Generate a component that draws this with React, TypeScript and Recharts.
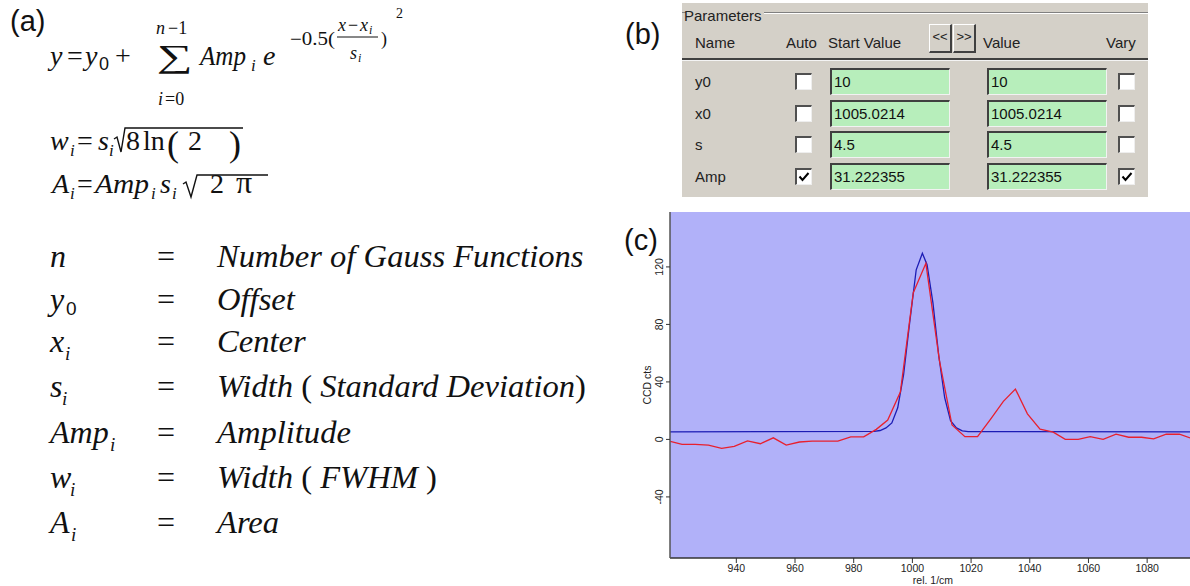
import React from 'react';
import { LineChart, Line, XAxis, YAxis, CartesianGrid } from 'recharts';

const redX = [
  917.5, 921.5, 926, 930.5, 935, 939.3, 943.8, 948.2, 952.6, 957, 961.5, 965.8, 970.2, 974.6,
  979, 983.4, 987.7, 991.6, 995.9, 1000.3, 1004.6, 1009.2, 1013.5, 1017.9, 1022.2, 1026.6,
  1031, 1035.1, 1039.2, 1043.5, 1048, 1052.1, 1056.5, 1060.6, 1065, 1069.4, 1073.7, 1078.1,
  1082.2, 1086.5, 1091, 1095.2,
];
const redY = [
  -1.4, -3.4, -3.4, -4, -6.2, -4.8, -1, -3, 1.1, -4, -1.8, -1.2, -1.2, -1.2,
  1.8, 1.8, 7, 13.5, 33, 102, 122.5, 55, 10, 1.9, 1.9, 14,
  26.5, 35, 17.8, 7.1, 5, 0, 0, 1.9, 0, 3.6, 1.5, 1.5,
  0.4, 3.6, 3.6, 0.6,
];

// fitted gauss curve (blue)
const blueX = [
  917.4, 987, 989, 991, 993, 995, 997, 999, 1001.3, 1003.4, 1005, 1007, 1009, 1011, 1013,
  1015, 1017, 1019, 1095,
];
const blueY = [
  5.3, 5.6, 6.2, 8, 11.5, 22, 45, 80, 118, 129.5, 121.5, 95, 58, 29, 13,
  8, 6, 5.4, 5.3,
];

const xTicks = [940, 960, 980, 1000, 1020, 1040, 1060, 1080];
const yTicks = [-40, 0, 40, 80, 120];

// parameter panel
const paramNames = ['y0', 'x0', 's', 'Amp'];
const startValues = ['10', '1005.0214', '4.5', '31.222355'];
const fitValues = ['10', '1005.0214', '4.5', '31.222355'];
const autoFlags = [false, false, false, true];
const varyFlags = [false, false, false, true];

// definitions list
const defSymbols = ['n', 'y', 'x', 's', 'Amp', 'w', 'A'];
const defSubs = ['', '0', 'i', 'i', 'i', 'i', 'i'];
const defTexts = [
  ['Number of Gauss Functions'],
  ['Offset'],
  ['Center'],
  ['Width ', '(', ' Standard Deviation', ')'],
  ['Amplitude'],
  ['Width ', '(', ' FWHM ', ')'],
  ['Area'],
];

const redData = redX.map((x, i) => ({ x, y: redY[i] }));
const blueData = blueX.map((x, i) => ({ x, y: blueY[i] }));

const SANS = '"Liberation Sans", Arial, sans-serif';
const SERIF = '"Liberation Serif", "Times New Roman", serif';
const GREY = '#d4d0c8';
const GREEN = '#b7eebb';

const YTick = (props: any) => {
  const { x, y, payload } = props;
  return (
    <text
      x={x}
      y={y}
      transform={`rotate(-90 ${x} ${y})`}
      textAnchor="middle"
      dominantBaseline="central"
      fontSize={10.5}
      fontFamily={SANS}
      fill="#222"
    >
      {payload.value}
    </text>
  );
};

const Formula = () => {
  const it = { fontFamily: SERIF, fontStyle: 'italic' as const, fill: '#111' };
  const up = { fontFamily: SERIF, fill: '#111' };
  const rowY = [267, 310, 352, 397, 443, 488, 533];
  const subX: Record<string, number> = { y: 66, x: 65, s: 62, Amp: 110, w: 70, A: 71 };
  return (
    <svg width={600} height={586} style={{ position: 'absolute', left: 0, top: 0 }}>
      <text x={10} y={31} fontFamily={SANS} fontSize={29} fill="#111">(a)</text>

      {/* y = y0 + sum Amp_i e^... */}
      <text x={50} y={65} fontSize={28} {...it}>y</text>
      <text x={67} y={65} fontSize={28} {...up}>=</text>
      <text x={85} y={65} fontSize={28} {...it}>y</text>
      <text x={99} y={70} fontSize={18} fontFamily={SANS} fill="#111">0</text>
      <text x={115} y={65} fontSize={28} {...up}>+</text>
      <text x={157} y={67} fontSize={32} textLength={36} lengthAdjust="spacingAndGlyphs" {...up}>∑</text>
      <text x={156} y={34} fontSize={18} {...it}>n</text>
      <text x={168} y={34} fontSize={18} {...up}>−1</text>
      <text x={158} y={105} fontSize={18} {...it}>i</text>
      <text x={165} y={105} fontSize={18} {...up}>=0</text>
      <text x={200} y={65} fontSize={28} textLength={46} lengthAdjust="spacingAndGlyphs" {...it}>Amp</text>
      <text x={251} y={71} fontSize={17} {...it}>i</text>
      <text x={263} y={65} fontSize={28} {...it}>e</text>
      <text x={290} y={45} fontSize={18} textLength={45} lengthAdjust="spacingAndGlyphs" {...up}>−0.5(</text>
      <text x={338} y={31} fontSize={18} {...it}>x</text>
      <text x={348} y={31} fontSize={18} {...up}>−</text>
      <text x={360} y={31} fontSize={18} {...it}>x</text>
      <text x={369} y={34} fontSize={12} {...it}>i</text>
      <line x1={337} y1={37} x2={378} y2={37} stroke="#111" strokeWidth={1} />
      <text x={350} y={59} fontSize={18} {...it}>s</text>
      <text x={358} y={62} fontSize={12} {...it}>i</text>
      <text x={381} y={45} fontSize={18} {...up}>)</text>
      <text x={396} y={18} fontSize={14} {...up}>2</text>

      {/* w_i = s_i sqrt(8 ln(2)) */}
      <text x={50} y={150} fontSize={28} {...it}>w</text>
      <text x={70} y={156} fontSize={17} {...it}>i</text>
      <text x={77} y={150} fontSize={28} {...up}>=</text>
      <text x={98} y={150} fontSize={28} {...it}>s</text>
      <text x={109} y={156} fontSize={17} {...it}>i</text>
      <path d="M114,139 L117,137 L121,152 L125,128 L243,128" fill="none" stroke="#111" strokeWidth={1.4} />
      <text x={126} y={150} fontSize={28} {...up}>8</text>
      <text x={143} y={150} fontSize={28} {...up}>ln</text>
      <text x={167} y={156} fontSize={36} {...up}>(</text>
      <text x={188} y={150} fontSize={28} {...up}>2</text>
      <text x={229} y={156} fontSize={36} {...up}>)</text>

      {/* A_i = Amp_i s_i sqrt(2 pi) */}
      <text x={52} y={193} fontSize={28} {...it}>A</text>
      <text x={70} y={199} fontSize={17} {...it}>i</text>
      <text x={77} y={193} fontSize={28} {...up}>=</text>
      <text x={95} y={193} fontSize={28} textLength={54} lengthAdjust="spacingAndGlyphs" {...it}>Amp</text>
      <text x={151} y={199} fontSize={17} {...it}>i</text>
      <text x={160} y={193} fontSize={28} {...it}>s</text>
      <text x={172} y={199} fontSize={17} {...it}>i</text>
      <path d="M183,184 L186,182 L191,197 L197,175 L268,175" fill="none" stroke="#111" strokeWidth={1.4} />
      <text x={210} y={193} fontSize={28} {...up}>2</text>
      <text x={236} y={193} fontSize={32} {...up}>π</text>

      {/* definitions */}
      {defSymbols.map((s, i) => (
        <g key={s + i}>
          <text x={50} y={rowY[i]} fontSize={32} {...it}>{s}</text>
          {defSubs[i] === '0' ? (
            <text x={subX[s]} y={rowY[i] + 5} fontSize={19} fontFamily={SANS} fill="#111">0</text>
          ) : defSubs[i] ? (
            <text x={subX[s]} y={rowY[i] + 8} fontSize={19} {...it}>
              {defSubs[i]}
            </text>
          ) : null}
          <text x={157} y={rowY[i]} fontSize={32} {...up}>=</text>
          <text x={217} y={rowY[i]} fontSize={32.6} {...it}>
            {defTexts[i].map((p, k) => (
              <tspan key={k} fontStyle={p === '(' || p === ')' ? 'normal' : 'italic'}>{p}</tspan>
            ))}
          </text>
        </g>
      ))}
    </svg>
  );
};

const CheckBox = ({ left, top, checked }: { left: number; top: number; checked: boolean }) => (
  <div
    style={{
      position: 'absolute', left, top, width: 17, height: 17, boxSizing: 'border-box',
      background: '#fff', borderTop: '2px solid #505050', borderLeft: '2px solid #505050',
      borderRight: '1px solid #eee', borderBottom: '1px solid #eee',
    }}
  >
    {checked && (
      <svg width={14} height={14} style={{ position: 'absolute', left: 0, top: 0 }}>
        <path d="M2.5,6.5 L5.5,10 L11.5,3" fill="none" stroke="#000" strokeWidth={2} />
      </svg>
    )}
  </div>
);

const Field = ({ left, top, text }: { left: number; top: number; text: string }) => (
  <div
    style={{
      position: 'absolute', left, top, width: 120, height: 27, boxSizing: 'border-box',
      background: GREEN, borderTop: '2px solid #404040', borderLeft: '2px solid #404040',
      borderRight: '1px solid #f2f2f2', borderBottom: '1px solid #f2f2f2',
      fontFamily: SANS, fontSize: 15, lineHeight: '23px', paddingLeft: 2, color: '#111',
    }}
  >
    {text}
  </div>
);

const Btn = ({ left, text }: { left: number; text: string }) => (
  <div
    style={{
      position: 'absolute', left, top: 24, width: 23, height: 29, boxSizing: 'border-box',
      background: GREY, borderTop: '1px solid #fff', borderLeft: '1px solid #fff',
      borderRight: '2px solid #404040', borderBottom: '2px solid #404040',
      fontFamily: SANS, fontSize: 13, lineHeight: '24px', textAlign: 'center', color: '#222',
    }}
  >
    {text}
  </div>
);

const Label = ({ left, top, text, size = 15 }: { left: number; top: number; text: string; size?: number }) => (
  <div style={{ position: 'absolute', left, top, fontFamily: SANS, fontSize: size, lineHeight: '16px', color: '#222', whiteSpace: 'nowrap' }}>
    {text}
  </div>
);

const ParamPanel = () => {
  const rowTop = [68, 100, 131, 163];
  return (
    <>
      <div style={{ position: 'absolute', left: 625, top: 14, fontFamily: SANS, fontSize: 29, lineHeight: '40px', color: '#111' }}>(b)</div>
      <div style={{ position: 'absolute', left: 682, top: 3, width: 466, height: 194, background: GREY }} />
      <div style={{ position: 'absolute', left: 682, top: 12, width: 4, height: 1, background: '#808080' }} />
      <div style={{ position: 'absolute', left: 764, top: 12, width: 384, height: 1, background: '#808080' }} />
      <div style={{ position: 'absolute', left: 764, top: 13, width: 384, height: 1, background: '#fff' }} />
      <Label left={684} top={8} text="Parameters" />
      <Label left={695} top={35} text="Name" />
      <Label left={786} top={35} text="Auto" />
      <Label left={828} top={35} text="Start Value" />
      <Btn left={929} text="<<" />
      <Btn left={953} text=">>" />
      <Label left={983} top={35} text="Value" />
      <Label left={1106} top={35} text="Vary" />
      <div style={{ position: 'absolute', left: 682, top: 58, width: 466, height: 2, background: '#404040' }} />
      <div style={{ position: 'absolute', left: 682, top: 60, width: 466, height: 1, background: '#f4f4f4' }} />
      {paramNames.map((n, i) => (
        <React.Fragment key={n}>
          <Label left={695} top={rowTop[i] + 6} text={n} />
          <CheckBox left={795} top={rowTop[i] + 5} checked={autoFlags[i]} />
          <Field left={830} top={rowTop[i]} text={startValues[i]} />
          <Field left={987} top={rowTop[i]} text={fitValues[i]} />
          <CheckBox left={1118} top={rowTop[i] + 5} checked={varyFlags[i]} />
        </React.Fragment>
      ))}
    </>
  );
};

const SpectrumChart = () => (
  <div style={{ position: 'absolute', left: 600, top: 200 }}>
    <LineChart width={590} height={386} margin={{ top: 12, right: 0, bottom: 0, left: 0 }}>
      <CartesianGrid fill="#b1b1f9" stroke="none" horizontal={false} vertical={false} />
      <XAxis
        type="number"
        dataKey="x"
        domain={[917.4, 1094.6]}
        ticks={xTicks}
        allowDataOverflow
        height={28}
        tickSize={5}
        tickMargin={2}
        axisLine={{ stroke: '#333', strokeWidth: 1.5 }}
        tickLine={{ stroke: '#333' }}
        tick={{ fontSize: 10.5, fontFamily: SANS, fill: '#222' }}
        label={{
          content: () => (
            <text x={333} y={384} textAnchor="middle" fontSize={10.5} fontFamily={SANS} fill="#222">rel. 1/cm</text>
          ),
        }}
      />
      <YAxis
        type="number"
        dataKey="y"
        domain={[-82.5, 158.2]}
        ticks={yTicks}
        allowDataOverflow
        width={70}
        tickSize={4}
        tickMargin={7}
        axisLine={{ stroke: '#555', strokeWidth: 1.5 }}
        tickLine={{ stroke: '#333' }}
        tick={<YTick />}
        label={{
          content: () => (
            <text x={47} y={185} transform="rotate(-90 47 185)" textAnchor="middle" dominantBaseline="central" fontSize={10.5} fontFamily={SANS} fill="#222">
              CCD cts
            </text>
          ),
        }}
      />
      <Line data={blueData} dataKey="y" type="linear" stroke="#1c1cb4" strokeWidth={1.3} dot={false} isAnimationActive={false} />
      <Line data={redData} dataKey="y" type="linear" stroke="#e8202e" strokeWidth={1.3} dot={false} isAnimationActive={false} />
    </LineChart>
    <div style={{ position: 'absolute', left: 24, top: 20, fontFamily: SANS, fontSize: 29, lineHeight: '40px', color: '#111' }}>(c)</div>
  </div>
);

export default function App() {
  return (
    <div style={{ position: 'absolute', left: 0, top: 0, width: 1190, height: 586, background: '#fff', overflow: 'hidden' }}>
      <Formula />
      <ParamPanel />
      <SpectrumChart />
    </div>
  );
}
